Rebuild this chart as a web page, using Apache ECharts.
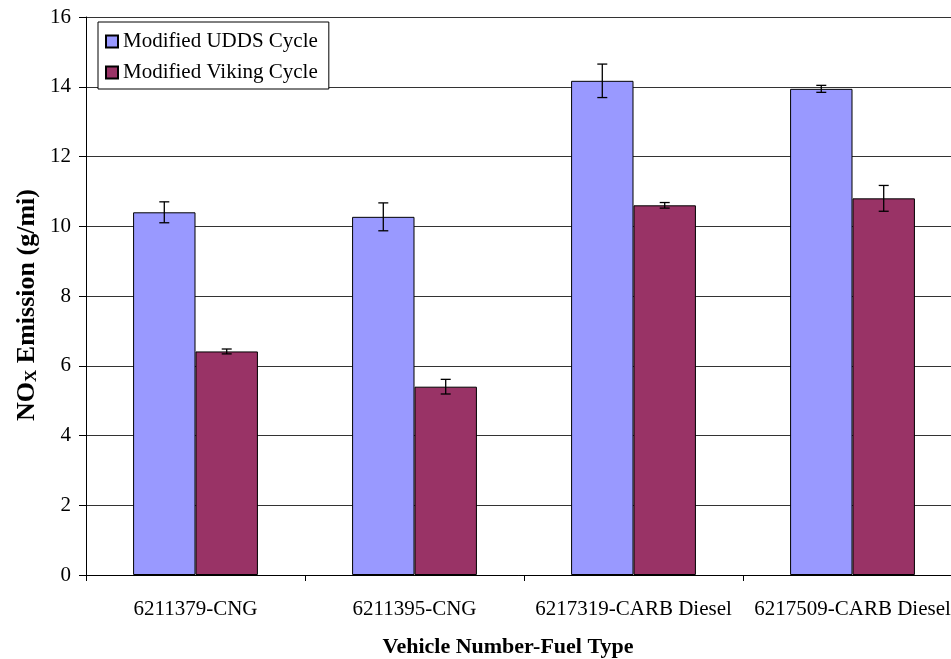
<!DOCTYPE html>
<html><head><meta charset="utf-8">
<script src="https://cdn.jsdelivr.net/npm/echarts@6/dist/echarts.min.js"></script>
<style>html,body{margin:0;padding:0;background:#fff}#c{width:951px;height:659px}</style>
</head><body><div id="c"></div>
<script>
const categories = ['6211379-CNG', '6211395-CNG', '6217319-CARB Diesel', '6217509-CARB Diesel'];
const uddsName = 'Modified UDDS Cycle';
const vikingName = 'Modified Viking Cycle';
const uddsValues = [10.4, 10.27, 14.17, 13.94];
const uddsErrors = [0.3, 0.4, 0.48, 0.1];
const vikingValues = [6.41, 5.4, 10.6, 10.8];
const vikingErrors = [0.07, 0.21, 0.08, 0.37];
const yTicks = [0, 2, 4, 6, 8, 10, 12, 14, 16];

const FONT = 'Liberation Serif';
const BAR_FRAC = 0.285;

function errSeries(values, errors, side) {
  return {
    type: 'custom', z: 10, silent: true,
    data: values.map((v, i) => [i, v - errors[i], v + errors[i]]),
    renderItem: function (params, api) {
      const i = api.value(0);
      const band = api.size([1, 0])[0];
      const off = side * band * BAR_FRAC / 2;
      const lo = api.coord([i, api.value(1)]);
      const hi = api.coord([i, api.value(2)]);
      const x = lo[0] + off;
      const cap = 5;
      const st = { stroke: '#000', lineWidth: 1.3 };
      return { type: 'group', children: [
        { type: 'line', shape: { x1: x, y1: lo[1], x2: x, y2: hi[1] }, style: st },
        { type: 'line', shape: { x1: x - cap, y1: lo[1], x2: x + cap, y2: lo[1] }, style: st },
        { type: 'line', shape: { x1: x - cap, y1: hi[1], x2: x + cap, y2: hi[1] }, style: st }
      ]};
    }
  };
}

const chart = echarts.init(document.getElementById('c'));
chart.setOption({
  animation: false,
  backgroundColor: '#fff',
  textStyle: { fontFamily: FONT },
  grid: { left: 86, top: 17, right: -11, bottom: 84, outerBoundsMode: 'none', containLabel: false },
  legend: {
    data: [uddsName, vikingName],
    orient: 'vertical', left: 98, top: 22,
    backgroundColor: '#fff',
    borderColor: '#000', borderWidth: 1,
    padding: [9, 11, 6, 7], itemGap: 10,
    icon: 'rect', itemWidth: 12, itemHeight: 12,
    textStyle: { fontFamily: FONT, fontSize: 21, color: '#000' }
  },
  xAxis: {
    type: 'category', data: categories,
    axisLine: { lineStyle: { color: '#000', width: 1 } },
    axisTick: { show: true, interval: 0, length: 6, lineStyle: { color: '#000' } },
    axisLabel: { interval: 0, hideOverlap: false, color: '#000', fontFamily: FONT, fontSize: 21, margin: 24 }
  },
  yAxis: {
    type: 'value', min: yTicks[0], max: yTicks[yTicks.length - 1], interval: 2,
    axisLine: { show: true, lineStyle: { color: '#000', width: 1 } },
    axisTick: { show: true, length: 7, lineStyle: { color: '#000' } },
    axisLabel: { color: '#000', fontFamily: FONT, fontSize: 21, margin: 15 },
    splitLine: { lineStyle: { color: '#333', width: 1 } }
  },
  series: [
    { name: uddsName, type: 'bar', data: uddsValues, barWidth: (BAR_FRAC * 100) + '%', barGap: '0%',
      itemStyle: { color: '#9999FF', borderColor: '#000', borderWidth: 1 } },
    { name: vikingName, type: 'bar', data: vikingValues, barWidth: (BAR_FRAC * 100) + '%', barGap: '0%',
      itemStyle: { color: '#993366', borderColor: '#000', borderWidth: 1 } },
    errSeries(uddsValues, uddsErrors, -1),
    errSeries(vikingValues, vikingErrors, 1)
  ],
  graphic: [
    { type: 'text', x: 508, y: 647, style: { text: 'Vehicle Number-Fuel Type', fontFamily: FONT, fontWeight: 'bold', fontSize: 22, fill: '#000', align: 'center', verticalAlign: 'middle' } },
    { type: 'text', x: 27, y: 305, rotation: Math.PI / 2,
      style: { text: '{b|NO}{s|X}{b| Emission (g/mi)}', align: 'center', verticalAlign: 'middle',
        rich: { b: { fontFamily: FONT, fontWeight: 'bold', fontSize: 26, color: '#000' },
                s: { fontFamily: FONT, fontWeight: 'bold', fontSize: 17, color: '#000', padding: [9, 0, 0, 0] } } } }
  ]
});
</script></body></html>
